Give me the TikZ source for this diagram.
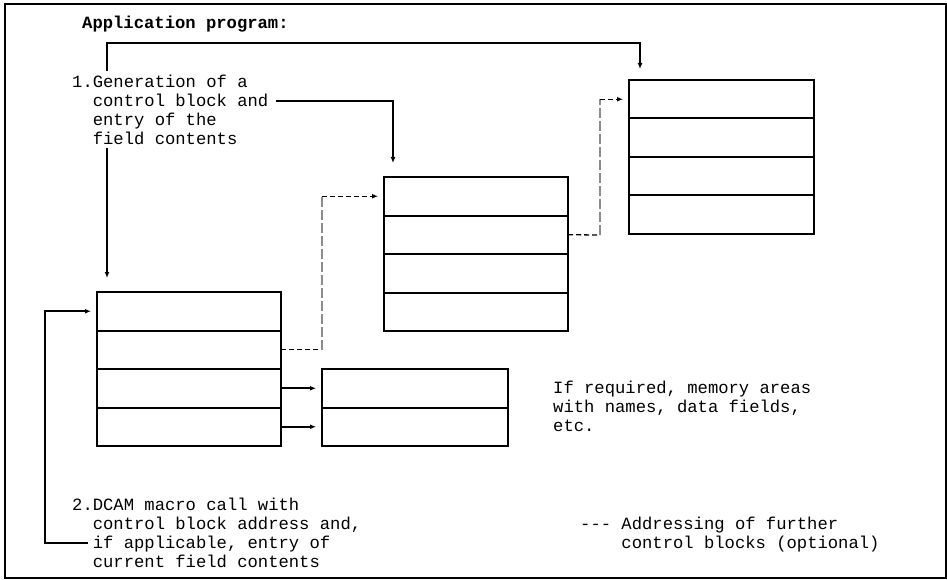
\documentclass[tikz,border=0pt]{standalone}
\usepackage{fontspec}
\setmonofont{Liberation Mono}
\usetikzlibrary{arrows.meta,positioning}

\begin{document}
\begin{tikzpicture}[
  x=1pt, y=-1pt,
  node distance=0pt,
  cell/.style={draw=black, line width=2pt, minimum width=184pt,
  minimum height=38.5pt, inner sep=0pt, outer sep=0pt},
  txt/.style={font=\ttfamily\fontsize{17.2}{19}\selectfont, align=left,
  inner sep=0pt, anchor=base west},
  arrow/.style={-{Latex[length=6pt,width=5pt]}, line width=2pt},
  dashlink/.style={line width=1.3pt, dash pattern=on 5pt off 3pt},
  dashrise/.style={line width=1.3pt, draw=black!45, dash pattern=on 10pt off 3pt}
]
\useasboundingbox (0,0) rectangle (947,580);
\draw[line width=2pt] (5,4.5) rectangle (945.5,578);

% control block of the application
\node[cell, anchor=north west] (A1) at (97,292) {};
\node[cell, below=of A1] (A2) {};
\node[cell, below=of A2] (A3) {};
\node[cell, below=of A3] (A4) {};

% memory areas
\node[cell, anchor=north west, minimum width=186pt] (D1) at (322,369) {};
\node[cell, below=of D1, minimum width=186pt] (D2) {};

% further control blocks
\node[cell, anchor=north west] (B1) at (384,177) {};
\node[cell, below=of B1] (B2) {};
\node[cell, below=of B2] (B3) {};
\node[cell, below=of B3] (B4) {};

\node[cell, anchor=north west, minimum width=185pt] (C1) at (629,80) {};
\node[cell, below=of C1, minimum width=185pt] (C2) {};
\node[cell, below=of C2, minimum width=185pt] (C3) {};
\node[cell, below=of C3, minimum width=185pt] (C4) {};

% texts (base = last line)
\node[txt, font=\ttfamily\bfseries\fontsize{17.2}{19}\selectfont] (title) at (82,29) {Application program:};
\node[txt] (gen) at (72,145) {1.Generation of a\\\phantom{1.}control block and\\\phantom{1.}entry of the\\\phantom{1.}field contents};
\node[txt] (memo) at (553,431) {If required, memory areas\\with names, data fields,\\etc.};
\node[txt] (dcam) at (72,567) {2.DCAM macro call with\\\phantom{2.}control block address and,\\\phantom{2.}if applicable, entry of\\\phantom{2.}current field contents};
\node[txt] (legend) at (580,548) {--{}- Addressing of further\\\phantom{--{}- }control blocks (optional)};

\coordinate (gentop) at (107,71);
\coordinate (topbar) at (107,43);
\coordinate (genbot) at (107,148);
\coordinate (genend) at (276,101);
\coordinate (call) at (88,543);
\coordinate (bcrise) at (600,235);

% solid connectors
\draw[arrow, shorten >=11pt] (gentop) -- (topbar) -| ([xshift=11pt]C1.north west);
\draw[arrow, shorten >=14pt] (genend) -| ([xshift=9pt]B1.north west);
\draw[arrow, shorten >=14pt] (genbot) -- (genbot |- A1.north);
\draw[arrow, shorten >=6pt] (call) -- ++(-43,0) |- (A1.west);
\draw[arrow, shorten >=6pt] (A3.east) -- (D1.west);
\draw[arrow, shorten >=6pt] (A4.east) -- (D2.west);

% optional addressing
\draw[dashlink] (A2.east) -- (A2.east -| D1.west);
\draw[dashrise] (A2.east -| D1.west) -- (B1.west -| D1.west);
\draw[dashlink, -{Latex[length=6pt,width=5pt]}, shorten >=6pt] (B1.west -| D1.west) -- (B1.west);
\draw[dashlink] (B2.east) -- (bcrise);
\draw[dashrise] (bcrise) -- (bcrise |- C1.west);
\draw[dashlink, -{Latex[length=6pt,width=5pt]}, shorten >=6pt] (bcrise |- C1.west) -- (C1.west);
\end{tikzpicture}
\end{document}
